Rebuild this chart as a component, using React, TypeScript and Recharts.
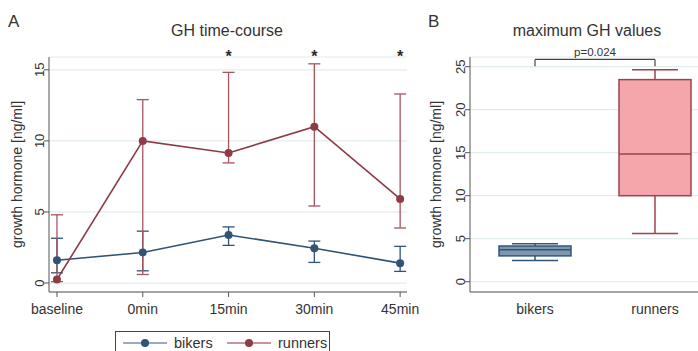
import React from "react";
import {
  ComposedChart,
  LineChart,
  Line,
  Bar,
  XAxis,
  YAxis,
  CartesianGrid,
  ErrorBar,
  ReferenceLine,
} from "recharts";

// panel A: GH time-course
const categories = ["baseline", "0min", "15min", "30min", "45min"];
const significance = ["", "", "*", "*", "*"];
const bikersMean = [1.6, 2.15, 3.38, 2.45, 1.4];
const bikersLow = [0.72, 0.86, 2.65, 1.45, 0.82];
const bikersHigh = [3.15, 3.65, 3.95, 2.95, 2.58];
const runnersMean = [0.25, 10.0, 9.15, 11.0, 5.92];
const runnersLow = [0.1, 0.6, 8.45, 5.42, 3.87];
const runnersHigh = [4.8, 12.9, 14.82, 15.42, 13.3];

// panel B: maximum GH values
const groups = ["bikers", "runners"];
const boxMin = [2.45, 5.6];
const boxQ1 = [3.0, 10.0];
const boxMedian = [3.7, 14.85];
const boxQ3 = [4.15, 23.5];
const boxMax = [4.4, 24.65];
const pValue = "p=0.024";
const bracketTop = 25.85;
const bracketTip = 25.05;

const FONT = "'Liberation Sans', Arial, Helvetica, sans-serif";
const TEXT = "#333";
const AXIS = "#555";
const GRID = "#e3ecec";
const NAVY = "#2f5477";
const MAROON = "#8d3b46";

const seriesInfo = [
  { name: "bikers", color: NAVY, light: "#7590ab" },
  { name: "runners", color: MAROON, light: "#b4737b" },
];

const lineData = categories.map((c, i) => ({
  i,
  label: c,
  bikers: bikersMean[i],
  bikersErr: [bikersMean[i] - bikersLow[i], bikersHigh[i] - bikersMean[i]],
  runners: runnersMean[i],
  runnersErr: [runnersMean[i] - runnersLow[i], runnersHigh[i] - runnersMean[i]],
}));

const boxData = groups.map((g, i) => ({
  group: g,
  min: boxMin[i],
  q1: boxQ1[i],
  median: boxMedian[i],
  q3: boxQ3[i],
  max: boxMax[i],
}));

const boxFill = ["#7d97ae", "#f4a6ab"];
const boxStroke = ["#335677", "#9e424c"];

const VTick = (props: any) => {
  const { x, y, payload } = props;
  return (
    <text
      x={x}
      y={y}
      transform={`rotate(-90 ${x} ${y})`}
      textAnchor="middle"
      fontSize={13}
      fill={TEXT}
      fontFamily={FONT}
    >
      {payload.value}
    </text>
  );
};

const StarTick = (props: any) => {
  const { x, y, payload } = props;
  return (
    <text
      x={x}
      y={y + 5}
      textAnchor="middle"
      fontSize={16}
      fontWeight="bold"
      fill="#2a2a2a"
      fontFamily={FONT}
    >
      {significance[payload.value] || ""}
    </text>
  );
};

const BoxShape = (props: any) => {
  const { x, y, width, height, payload, index } = props;
  const px = (v: number) => y + (height * (payload.max - v)) / (payload.max - payload.min);
  const cx = x + width / 2;
  const cap = 23;
  const stroke = boxStroke[index];
  return (
    <g stroke={stroke} strokeWidth={1.5}>
      <line x1={cx} x2={cx} y1={px(payload.max)} y2={px(payload.q3)} />
      <line x1={cx} x2={cx} y1={px(payload.q1)} y2={px(payload.min)} />
      <line x1={cx - cap} x2={cx + cap} y1={px(payload.max)} y2={px(payload.max)} />
      <line x1={cx - cap} x2={cx + cap} y1={px(payload.min)} y2={px(payload.min)} />
      <rect
        x={x}
        y={px(payload.q3)}
        width={width}
        height={px(payload.q1) - px(payload.q3)}
        fill={boxFill[index]}
      />
      <line x1={x} x2={x + width} y1={px(payload.median)} y2={px(payload.median)} />
    </g>
  );
};

const abs = (left: number, top: number, extra: React.CSSProperties = {}): React.CSSProperties => ({
  position: "absolute",
  left,
  top,
  fontFamily: FONT,
  color: TEXT,
  lineHeight: 1,
  whiteSpace: "nowrap",
  ...extra,
});

export default function App() {
  return (
    <div
      style={{
        position: "absolute",
        left: 0,
        top: 0,
        width: 698,
        height: 351,
        overflow: "hidden",
        background: "#fff",
      }}
    >
      <div style={abs(8, 13, { fontSize: 17 })}>A</div>
      <div style={abs(227, 22.5, { fontSize: 16, transform: "translateX(-50%)" })}>GH time-course</div>
      <div style={abs(428, 13, { fontSize: 17 })}>B</div>
      <div style={abs(587, 22.5, { fontSize: 16, transform: "translateX(-50%)" })}>
        maximum GH values
      </div>

      <div style={{ position: "absolute", left: 0, top: 0 }}>
        <LineChart
          width={420}
          height={330}
          data={lineData}
          margin={{ top: 37, right: 13, bottom: 0, left: 0 }}
        >
          <CartesianGrid vertical={false} stroke={GRID} strokeWidth={1.2} />
          <XAxis
            xAxisId="top"
            orientation="top"
            dataKey="i"
            type="number"
            domain={[-0.093, 4.08]}
            allowDataOverflow
            ticks={[0, 1, 2, 3, 4]}
            height={20}
            axisLine={false}
            tickLine={false}
            tickSize={0}
            tickMargin={0}
            tick={<StarTick />}
          />
          <XAxis
            dataKey="i"
            type="number"
            domain={[-0.093, 4.08]}
            allowDataOverflow
            ticks={[0, 1, 2, 3, 4]}
            tickFormatter={(v: number) => categories[v]}
            height={38}
            stroke={AXIS}
            tickSize={5}
            tickMargin={7}
            tick={{ fill: TEXT, fontSize: 14, fontFamily: FONT }}
          />
          <YAxis
            domain={[-0.63, 15.9]}
            allowDataOverflow
            ticks={[0, 5, 10, 15]}
            width={49}
            stroke={AXIS}
            tickSize={5}
            tickMargin={0}
            tick={<VTick />}
            label={{
              value: "growth hormone [ng/ml]",
              angle: -90,
              position: "insideLeft",
              offset: 17,
              style: { textAnchor: "middle", fill: TEXT, fontSize: 14, fontFamily: FONT },
            }}
          />
          <Line
            dataKey="bikers"
            stroke={NAVY}
            strokeWidth={1.6}
            dot={{ r: 4, fill: NAVY, stroke: NAVY, strokeWidth: 0 }}
            isAnimationActive={false}
          >
            <ErrorBar dataKey="bikersErr" direction="y" width={6} stroke={NAVY} strokeWidth={1.3} />
          </Line>
          <Line
            dataKey="runners"
            stroke={MAROON}
            strokeWidth={1.6}
            dot={{ r: 4, fill: MAROON, stroke: MAROON, strokeWidth: 0 }}
            isAnimationActive={false}
          >
            <ErrorBar dataKey="runnersErr" direction="y" width={6} stroke="#a8545d" strokeWidth={1.3} />
          </Line>
        </LineChart>
      </div>

      <div
        style={{
          position: "absolute",
          left: 115,
          top: 331,
          width: 215,
          height: 30,
          border: "1px solid #444",
          boxSizing: "border-box",
          fontFamily: FONT,
          fontSize: 14.5,
          color: TEXT,
        }}
      >
        {seriesInfo.map((s, k) => (
          <div
            key={s.name}
            style={{ position: "absolute", left: k === 0 ? 6 : 110, top: 3, display: "flex", alignItems: "center" }}
          >
            <svg width={46} height={14}>
              <line x1={1} x2={45} y1={7} y2={7} stroke={s.light} strokeWidth={1.6} />
              <circle cx={23} cy={7} r={4} fill={s.color} />
            </svg>
            <span style={{ marginLeft: 6, lineHeight: "16px" }}>{s.name}</span>
          </div>
        ))}
      </div>

      <div style={{ position: "absolute", left: 420, top: 0 }}>
        <ComposedChart
          width={300}
          height={330}
          data={boxData}
          margin={{ top: 57, right: 0, bottom: 0, left: 0 }}
        >
          <CartesianGrid vertical={false} stroke={GRID} strokeWidth={1.2} />
          <XAxis
            dataKey="group"
            type="category"
            padding={{ left: 5, right: 5 }}
            height={38}
            stroke={AXIS}
            tickLine={false}
            tickSize={5}
            tickMargin={7}
            tick={{ fill: TEXT, fontSize: 14, fontFamily: FONT }}
          />
          <YAxis
            domain={[-1.2, 26.13]}
            allowDataOverflow
            ticks={[0, 5, 10, 15, 20, 25]}
            width={50}
            stroke={AXIS}
            tickSize={5}
            tickMargin={0}
            tick={<VTick />}
            label={{
              value: "growth hormone [ng/ml]",
              angle: -90,
              position: "insideLeft",
              offset: 16,
              style: { textAnchor: "middle", fill: TEXT, fontSize: 14, fontFamily: FONT },
            }}
          />
          <Bar
            dataKey={(d: any) => [d.min, d.max]}
            barSize={72}
            shape={<BoxShape />}
            isAnimationActive={false}
          />
          <ReferenceLine
            segment={[
              { x: groups[0], y: bracketTop },
              { x: groups[1], y: bracketTop },
            ]}
            stroke="#444"
            strokeWidth={1.2}
            ifOverflow="visible"
            label={{ value: pValue, position: "top", offset: 3, fill: TEXT, fontSize: 11.5, fontFamily: FONT }}
          />
          <ReferenceLine
            segment={[
              { x: groups[0], y: bracketTop },
              { x: groups[0], y: bracketTip },
            ]}
            stroke="#444"
            strokeWidth={1.2}
            ifOverflow="visible"
          />
          <ReferenceLine
            segment={[
              { x: groups[1], y: bracketTop },
              { x: groups[1], y: bracketTip },
            ]}
            stroke="#444"
            strokeWidth={1.2}
            ifOverflow="visible"
          />
        </ComposedChart>
      </div>
    </div>
  );
}
